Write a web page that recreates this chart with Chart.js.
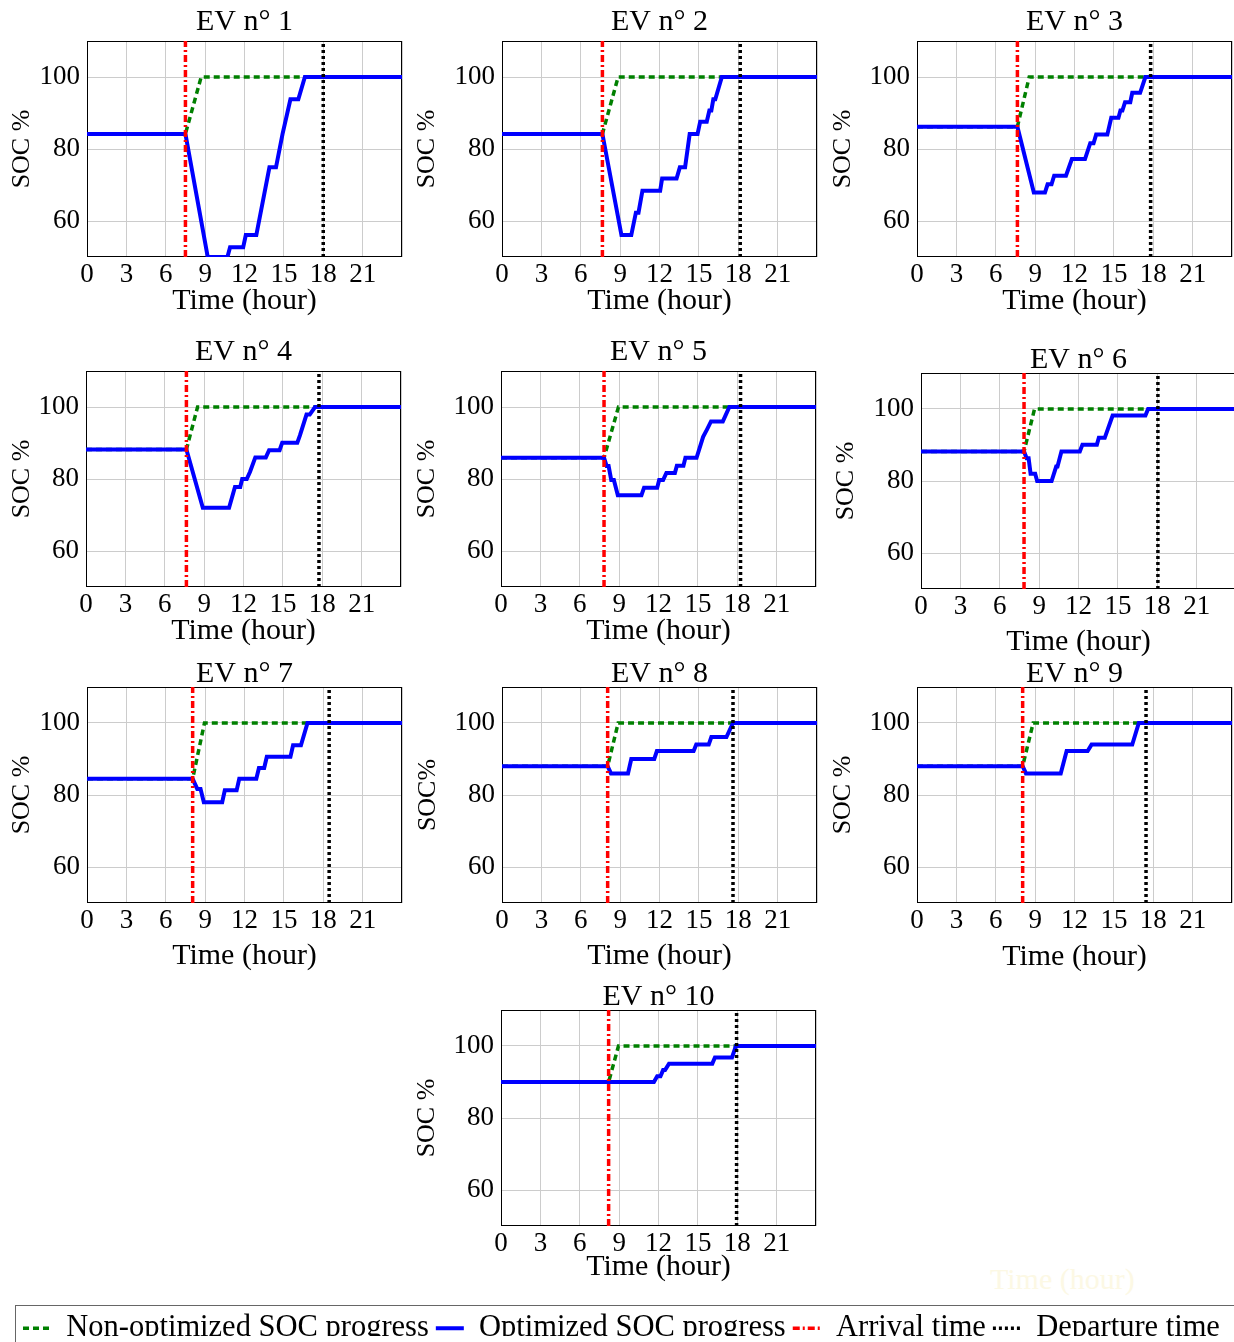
<!DOCTYPE html>
<html>
<head>
<meta charset="utf-8">
<script src="https://cdn.jsdelivr.net/npm/chart.js@4.4.0/dist/chart.umd.min.js"></script>
<style>
  body { margin: 0; background: #fff; width: 1234px; height: 1342px; overflow: hidden; position: relative; }
  .panel { position: absolute; }
  #legendBox { position: absolute; left: 15px; top: 1305px; width: 1240px; height: 60px; border: 1px solid #666; }
  #ghost { position: absolute; left: 990px; top: 1262px; font: 30px "Liberation Serif", serif; color: #fcf8e4; }
</style>
</head>
<body>
<div id="ghost">Time (hour)</div>
<div id="legendBox"><canvas id="legend" width="1240" height="60"></canvas></div>
<script>
// ---- data ----
var evTitles = ["EV n° 1", "EV n° 2", "EV n° 3", "EV n° 4", "EV n° 5",
                "EV n° 6", "EV n° 7", "EV n° 8", "EV n° 9", "EV n° 10"];
var socLabels = ["SOC %", "SOC %", "SOC %", "SOC %", "SOC %",
                 "SOC %", "SOC %", "SOC%", "SOC %", "SOC %"];
var xTicks = [0, 3, 6, 9, 12, 15, 18, 21];
var yTicks = [60, 80, 100];

var initialSoc    = [84.2, 84.2, 86.2, 88.2, 85.9, 88.2, 84.5, 88.0, 88.0, 90.0];
var arrivalTime   = [7.5, 7.65, 7.65, 7.65, 7.85, 7.85, 8.05, 8.05, 8.05, 8.2];
var fullTime      = [8.7, 8.85, 8.55, 8.5, 8.95, 8.65, 8.95, 8.85, 8.85, 8.95];
var departureTime = [18.0, 18.15, 17.8, 17.75, 18.25, 18.05, 18.45, 17.6, 17.45, 17.95];

// optimized SOC curves (hour, %)
var optHours = [
  [0, 7.5, 9.2, 10.7, 10.9, 11.9, 12.1, 12.9, 13.9, 14.4, 14.9, 15.5, 16.1, 16.6, 24],
  [0, 7.65, 9.1, 9.85, 10.2, 10.4, 10.7, 12.05, 12.2, 13.3, 13.55, 13.95, 14.3, 14.9, 15.1, 15.6, 15.8, 15.95, 16.1, 16.25, 16.75, 24],
  [0, 7.65, 8.9, 9.75, 9.95, 10.25, 10.45, 11.35, 11.8, 12.8, 13.2, 13.45, 13.65, 14.5, 14.8, 15.35, 15.5, 15.65, 15.85, 16.25, 16.4, 17.0, 17.4, 24],
  [0, 7.65, 8.9, 10.9, 11.35, 11.75, 11.9, 12.25, 12.5, 12.9, 13.7, 13.95, 14.75, 14.95, 16.1, 16.3, 16.8, 17.05, 17.45, 24],
  [0, 7.85, 8.05, 8.2, 8.4, 8.6, 8.9, 10.7, 10.9, 11.9, 12.05, 12.35, 12.6, 13.25, 13.4, 13.9, 14.05, 14.9, 15.4, 15.7, 16.0, 16.9, 17.4, 24],
  [0, 7.85, 8.05, 8.2, 8.35, 8.7, 8.85, 9.95, 10.3, 10.4, 10.7, 12.1, 12.3, 13.4, 13.55, 14.0, 14.6, 17.1, 17.3, 24],
  [0, 8.05, 8.4, 8.65, 8.9, 10.3, 10.5, 11.4, 11.6, 12.9, 13.1, 13.5, 13.7, 15.5, 15.7, 16.3, 16.8, 24],
  [0, 8.05, 8.3, 9.6, 9.85, 11.6, 11.8, 14.6, 14.8, 15.75, 15.95, 17.1, 17.6, 24],
  [0, 8.05, 8.3, 10.95, 11.4, 13.0, 13.3, 16.4, 16.9, 24],
  [0, 11.65, 11.9, 12.15, 12.35, 12.5, 12.8, 16.1, 16.3, 17.6, 17.9, 24]
];
var optSoc = [
  [84.2, 84.2, 50, 50, 52.7, 52.7, 56.1, 56.1, 74.9, 74.9, 84.2, 93.8, 93.8, 100, 100],
  [84.2, 84.2, 56.1, 56.1, 62.3, 62.3, 68.4, 68.4, 71.8, 71.8, 74.9, 74.9, 84.2, 84.2, 87.6, 87.6, 90.7, 90.7, 93.8, 93.8, 100, 100],
  [86.2, 86.2, 67.9, 67.9, 70.2, 70.2, 72.6, 72.6, 77.2, 77.2, 81.6, 81.6, 84.0, 84.0, 88.7, 88.7, 90.7, 90.7, 93.0, 93.0, 95.6, 95.6, 100, 100],
  [88.2, 88.2, 72.0, 72.0, 77.8, 77.8, 80.0, 80.0, 82.0, 86.0, 86.0, 88.0, 88.0, 90.1, 90.1, 92.1, 97.9, 97.9, 100, 100],
  [85.9, 85.9, 83.6, 83.6, 79.7, 79.7, 75.5, 75.5, 77.6, 77.6, 79.7, 79.7, 81.7, 81.7, 83.7, 83.7, 85.9, 85.9, 91.7, 93.8, 96.0, 96.0, 100, 100],
  [88.2, 88.2, 86.3, 86.3, 82.0, 82.0, 80.0, 80.0, 84.0, 84.0, 88.2, 88.2, 90.1, 90.1, 92.0, 92.0, 98.2, 98.2, 100, 100],
  [84.5, 84.5, 81.7, 81.7, 78.0, 78.0, 81.3, 81.3, 84.5, 84.5, 87.5, 87.5, 90.6, 90.6, 93.8, 93.8, 100, 100],
  [88, 88, 86, 86, 90, 90, 92.2, 92.2, 94, 94, 96.1, 96.1, 100, 100],
  [88, 88, 86, 86, 92.2, 92.2, 94, 94, 100, 100],
  [90, 90, 91.6, 91.6, 93.3, 93.3, 95.1, 95.1, 96.8, 96.8, 100, 100]
];

// ---- layout (pixels of the plot frame for each panel) ----
var layout = [
  { left: 87,  top: 41,   yOff: 65, xOff: 44, tOff: 19 },
  { left: 502, top: 41,   yOff: 75, xOff: 44, tOff: 19 },
  { left: 917, top: 41,   yOff: 74, xOff: 44, tOff: 19 },
  { left: 86,  top: 371,  yOff: 64, xOff: 44, tOff: 19 },
  { left: 501, top: 371,  yOff: 74, xOff: 44, tOff: 19 },
  { left: 921, top: 373,  yOff: 75, xOff: 53, tOff: 13 },
  { left: 87,  top: 687,  yOff: 65, xOff: 53, tOff: 13 },
  { left: 502, top: 687,  yOff: 74, xOff: 53, tOff: 13 },
  { left: 917, top: 687,  yOff: 74, xOff: 54, tOff: 13 },
  { left: 501, top: 1010, yOff: 74, xOff: 41, tOff: 13 }
];
var plotW = 315, plotH = 216;

var FONT = '"Liberation Serif", "DejaVu Serif", serif';
Chart.defaults.font.family = FONT;
Chart.defaults.color = "#000";

var framePlugin = {
  id: "frame",
  beforeDatasetsDraw: function (chart) {
    var a = chart.chartArea, ctx = chart.ctx;
    ctx.save();
    ctx.strokeStyle = "#000";
    ctx.lineWidth = 1;
    ctx.strokeRect(a.left + 0.5, a.top + 0.5, a.right - a.left - 1, a.bottom - a.top - 1);
    ctx.restore();
  }
};

function pts(xs, ys) {
  var out = [];
  for (var k = 0; k < xs.length; k++) out.push({ x: xs[k], y: ys[k] });
  return out;
}

function makePanel(i) {
  var p = layout[i];
  var yW = 90, rPad = 6;
  var tFont = 30, tickFont = 27, yFont = 26;
  var titlePadBottom = p.tOff - tFont / 2;
  var titleH = tFont + titlePadBottom;
  var xH = p.xOff + tFont / 2;
  var w = yW + plotW + rPad, h = titleH + plotH + xH;

  var wrap = document.createElement("div");
  wrap.className = "panel";
  wrap.style.left = (p.left - yW) + "px";
  wrap.style.top = (p.top - titleH) + "px";
  var c = document.createElement("canvas");
  c.width = w; c.height = h;
  wrap.appendChild(c);
  document.body.appendChild(wrap);

  var init = initialSoc[i], arr = arrivalTime[i], dep = departureTime[i];

  new Chart(c, {
    type: "line",
    data: {
      datasets: [
        {
          label: "Non-optimized SOC progress",
          data: pts([0, arr, fullTime[i], 24], [init, init, 100, 100]),
          borderColor: "#008000", borderWidth: 3.5, borderDash: [6, 4],
          pointRadius: 0, order: 4, clip: 0
        },
        {
          label: "Optimized SOC progress",
          data: pts(optHours[i], optSoc[i]),
          borderColor: "#0000ff", borderWidth: 4,
          pointRadius: 0, order: 3, clip: 0
        },
        {
          label: "Arrival time",
          data: pts([arr, arr], [50, 110]),
          borderColor: "#ff0000", borderWidth: 3.5, borderDash: [7, 3, 2, 3],
          pointRadius: 0, order: 2, clip: 0
        },
        {
          label: "Departure time",
          data: pts([dep, dep], [50, 110]),
          borderColor: "#000000", borderWidth: 3.5, borderDash: [3, 3],
          pointRadius: 0, order: 1, clip: 0
        }
      ]
    },
    options: {
      responsive: false,
      animation: false,
      layout: { padding: { left: 0, right: rPad, top: 0, bottom: 0 } },
      elements: { line: { tension: 0, borderJoinStyle: "miter" } },
      plugins: {
        legend: { display: false },
        tooltip: { enabled: false },
        title: {
          display: true, text: evTitles[i], color: "#000", fullSize: false,
          font: { size: tFont, weight: "normal", lineHeight: 1 },
          padding: { top: 0, bottom: titlePadBottom }
        }
      },
      scales: {
        x: {
          type: "linear", min: 0, max: 24,
          afterBuildTicks: function (s) {
            s.ticks = xTicks.concat([24]).map(function (v) { return { value: v }; });
          },
          afterFit: function (s) { s.height = xH; },
          ticks: {
            autoSkip: false, maxRotation: 0, padding: 4.5, color: "#000",
            font: { size: tickFont, lineHeight: 1 },
            callback: function (v) { return v === 24 ? "" : v; }
          },
          grid: { color: "#cccccc", lineWidth: 1, drawTicks: false },
          border: { display: false },
          title: {
            display: true, text: "Time (hour)", color: "#000",
            font: { size: tFont, lineHeight: 1 }, padding: { top: 0, bottom: 0 }
          }
        },
        y: {
          min: 50, max: 110,
          afterBuildTicks: function (s) {
            s.ticks = yTicks.map(function (v) { return { value: v }; });
          },
          afterFit: function (s) { s.width = yW; },
          ticks: { padding: 7, color: "#000", font: { size: tickFont, lineHeight: 1 } },
          grid: { color: "#cccccc", lineWidth: 1, drawTicks: false },
          border: { display: false },
          title: {
            display: true, text: socLabels[i], color: "#000",
            font: { size: yFont, lineHeight: 1 },
            padding: { top: yW - p.yOff - yFont / 2, bottom: 0 }
          }
        }
      }
    },
    plugins: [framePlugin]
  });
}

for (var i = 0; i < evTitles.length; i++) makePanel(i);

// shared legend along the bottom
new Chart(document.getElementById("legend"), {
  type: "line",
  data: {
    datasets: [
      { label: "Non-optimized SOC progress", data: [], borderColor: "#008000", backgroundColor: "rgba(0,0,0,0)", borderWidth: 3.5, borderDash: [6, 4] },
      { label: "Optimized SOC progress", data: [], borderColor: "#0000ff", backgroundColor: "rgba(0,0,0,0)", borderWidth: 4 },
      { label: "Arrival time", data: [], borderColor: "#ff0000", backgroundColor: "rgba(0,0,0,0)", borderWidth: 3.5, borderDash: [7, 3, 2, 3] },
      { label: "Departure time", data: [], borderColor: "#000000", backgroundColor: "rgba(0,0,0,0)", borderWidth: 3.5, borderDash: [3, 3] }
    ]
  },
  options: {
    responsive: false,
    animation: false,
    layout: { padding: { left: 0, top: 0 } },
    scales: { x: { display: false }, y: { display: false } },
    plugins: {
      tooltip: { enabled: false },
      legend: {
        display: true, position: "top", align: "start",
        labels: {
          usePointStyle: true, pointStyle: "line", pointStyleWidth: 28,
          padding: 7, color: "#000", font: { size: 30.5 },
          generateLabels: function (chart) {
            var items = Chart.defaults.plugins.legend.labels.generateLabels(chart);
            items.forEach(function (it, k) {
              var ds = chart.data.datasets[k];
              it.lineDash = ds.borderDash || [];
              it.strokeStyle = ds.borderColor;
              it.lineWidth = ds.borderWidth;
              it.pointStyle = "line";
            });
            return items;
          }
        }
      }
    }
  }
});
</script>
</body>
</html>
